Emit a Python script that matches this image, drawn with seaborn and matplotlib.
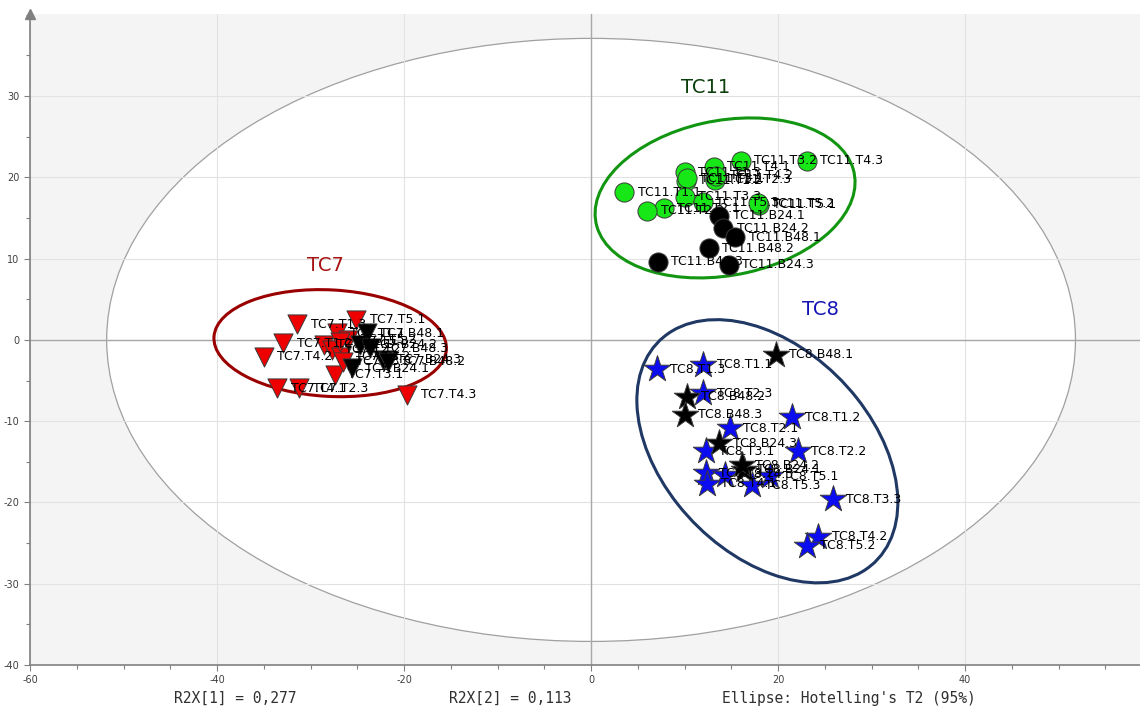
import numpy as np
import pandas as pd
import matplotlib
matplotlib.use("Agg")
import matplotlib.pyplot as plt
import seaborn as sns
from matplotlib.patches import Ellipse
from matplotlib.ticker import MultipleLocator

# Score values (t[1], t[2])
tc7_t_names = ["TC7.T1.1", "TC7.T1.2", "TC7.T1.3", "TC7.T2.1", "TC7.T2.2", "TC7.T2.3",
               "TC7.T3.1", "TC7.T3.2", "TC7.T3.3", "TC7.T4.1", "TC7.T4.2", "TC7.T4.3",
               "TC7.T5.1", "TC7.T5.2", "TC7.T5.3"]
tc7_t_x = [-27.2, -32.9, -31.4, -28.6, -27.7, -31.2, -27.4, -26.7, -26.5, -33.55, -35.0, -19.65, -25.1, -26.0, -26.9]
tc7_t_y = [0.82, -0.41, 1.93, -0.62, -1.23, -5.95, -4.3, -2.05, -2.67, -5.95, -2.05, -6.77, 2.46, 0.0, -0.2]

tc7_b_names = ["TC7.B24.1", "TC7.B24.2", "TC7.B24.3", "TC7.B48.1", "TC7.B48.2", "TC7.B48.3"]
tc7_b_x = [-25.6, -24.7, -22.2, -24.0, -21.7, -23.6]
tc7_b_y = [-3.5, -0.6, -2.46, 0.82, -2.67, -1.0]

tc11_t_names = ["TC11.T1.1", "TC11.T1.2", "TC11.T1.3", "TC11.T2.1", "TC11.T2.2", "TC11.T2.3",
                "TC11.T3.1", "TC11.T3.2", "TC11.T3.3", "TC11.T4.1", "TC11.T4.2", "TC11.T4.3",
                "TC11.T5.1", "TC11.T5.2", "TC11.T5.3"]
tc11_t_x = [3.56, 10.13, 10.02, 7.81, 6.02, 13.26, 10.3, 16.01, 10.05, 13.12, 13.4, 23.1, 18.0, 17.8, 11.95]
tc11_t_y = [18.17, 19.59, 20.63, 16.2, 15.9, 19.68, 19.9, 22.02, 17.63, 21.32, 20.2, 22.05, 16.6, 16.8, 16.94]

tc11_b_names = ["TC11.B24.1", "TC11.B24.2", "TC11.B24.3", "TC11.B48.1", "TC11.B48.2", "TC11.B48.3"]
tc11_b_x = [13.72, 14.15, 14.73, 15.43, 12.59, 7.17]
tc11_b_y = [15.25, 13.74, 9.23, 12.63, 11.28, 9.63]

tc8_t_names = ["TC8.T1.1", "TC8.T1.2", "TC8.T1.3", "TC8.T2.1", "TC8.T2.2", "TC8.T2.3",
               "TC8.T3.1", "TC8.T3.2", "TC8.T3.3", "TC8.T4.1", "TC8.T4.2", "TC8.T4.3",
               "TC8.T5.1", "TC8.T5.2", "TC8.T5.3"]
tc8_t_x = [12.01, 21.46, 7.02, 14.87, 22.1, 12.01, 12.3, 12.3, 25.9, 12.44, 24.3, 14.33, 19.14, 23.07, 17.19]
tc8_t_y = [-3.08, -9.51, -3.61, -10.87, -13.73, -6.56, -13.73, -16.4, -19.6, -17.7, -24.2, -16.6, -16.8, -25.3, -17.9]

tc8_b_names = ["TC8.B24.1", "TC8.B24.2", "TC8.B24.3", "TC8.B48.1", "TC8.B48.2", "TC8.B48.3"]
tc8_b_x = [16.3, 16.1, 13.72, 19.75, 10.3, 10.05]
tc8_b_y = [-16.0, -15.4, -12.7, -1.85, -6.97, -9.23]

# Group ellipses: centre x, centre y, semi axis a, semi axis b, angle (deg)
group_names = ["TC7", "TC11", "TC8"]
group_cx = [-27.9, 14.33, 18.85]
group_cy = [-0.4, 17.47, -13.7]
group_a = [12.45, 14.15, 17.96]
group_b = [6.55, 9.48, 11.59]
group_angle = [-3.8, 14.6, -55.5]
group_label_x = [-28.45, 12.2, 24.5]
group_label_y = [9.2, 31.1, 3.8]

# Hotelling's T2 (95%) ellipse semi axes
t2_a = 51.8
t2_b = 37.1

sns.set_theme(style="ticks")
plt.rcParams["font.family"] = ["DejaVu Sans"]
plt.rcParams["axes.unicode_minus"] = False

fig = plt.figure(figsize=(11.4, 7.09), dpi=100)
ax = fig.add_axes([30 / 1140, 44 / 709, 1110 / 1140, 651 / 709])
ax.set_facecolor("#f4f4f4")

ax.add_patch(Ellipse((0, 0), 2 * t2_a, 2 * t2_b, facecolor="white",
                     edgecolor="#a0a0a0", lw=0.9, zorder=0.2))

ax.set_axisbelow(True)
ax.grid(True, which="major", color="#e2e2e2", lw=0.8)
ax.axhline(0, color="#a8a8a8", lw=1.0, zorder=0.6)
ax.axvline(0, color="#a8a8a8", lw=1.0, zorder=0.6)

groups = [
    (tc7_t_names, tc7_t_x, tc7_t_y, "v", "#ee0000", 190),
    (tc7_b_names, tc7_b_x, tc7_b_y, "v", "black", 190),
    (tc11_t_names, tc11_t_x, tc11_t_y, "o", "#17e617", 190),
    (tc11_b_names, tc11_b_x, tc11_b_y, "o", "black", 190),
    (tc8_t_names, tc8_t_x, tc8_t_y, "*", "#0c0cf0", 400),
    (tc8_b_names, tc8_b_x, tc8_b_y, "*", "black", 400),
]

for names, xs, ys, marker, color, size in groups:
    df = pd.DataFrame({"x": xs, "y": ys, "name": names})
    sns.scatterplot(data=df, x="x", y="y", marker=marker, color=color, s=size,
                    edgecolor="#3a3a3a", linewidth=0.7, ax=ax, zorder=3)
    for _, row in df.iterrows():
        ax.annotate(row["name"], (row["x"], row["y"]), xytext=(9.5, 0),
                    textcoords="offset points", va="center", ha="left",
                    fontsize=9, color="black", zorder=4)

edge_colors = ["#9a0000", "#129612", "#1f3864"]
text_colors = ["#a81212", "#0b3f0b", "#1414b4"]
for i, g in enumerate(group_names):
    ax.add_patch(Ellipse((group_cx[i], group_cy[i]), 2 * group_a[i], 2 * group_b[i],
                         angle=group_angle[i], fill=False, edgecolor=edge_colors[i],
                         lw=2.2, zorder=2.5))
    ax.text(group_label_x[i], group_label_y[i], g, color=text_colors[i],
            fontsize=14, ha="center", va="center")

ax.set_xlim(-60, 58.7)
ax.set_ylim(-40, 40.1)
ax.xaxis.set_major_locator(MultipleLocator(20))
ax.xaxis.set_minor_locator(MultipleLocator(5))
ax.yaxis.set_major_locator(MultipleLocator(10))
ax.yaxis.set_minor_locator(MultipleLocator(5))
ax.set_yticks([-40, -30, -20, -10, 0, 10, 20, 30])
ax.tick_params(which="both", colors="#808080", labelcolor="#404040",
               labelsize=7, direction="out")
ax.tick_params(which="major", length=4, width=0.8)
ax.tick_params(which="minor", length=3, width=0.8)
ax.set_xlabel("")
ax.set_ylabel("")

for side in ["top", "right"]:
    ax.spines[side].set_visible(False)
for side in ["left", "bottom"]:
    ax.spines[side].set_color("#808080")
    ax.spines[side].set_linewidth(1.2)
ax.plot([0], [1], marker="^", color="#808080", markersize=7,
        transform=ax.transAxes, clip_on=False)

mono = ["DejaVu Sans Mono"]
fig.text(235 / 1140, 1 - 698 / 709, "R2X[1] = 0,277", family=mono, fontsize=10.5,
         color="#303030", ha="center", va="center")
fig.text(510 / 1140, 1 - 698 / 709, "R2X[2] = 0,113", family=mono, fontsize=10.5,
         color="#303030", ha="center", va="center")
fig.text(849 / 1140, 1 - 698 / 709, "Ellipse: Hotelling's T2 (95%)", family=mono,
         fontsize=10.5, color="#303030", ha="center", va="center")

fig.savefig("out.png", dpi=100, facecolor="white")
